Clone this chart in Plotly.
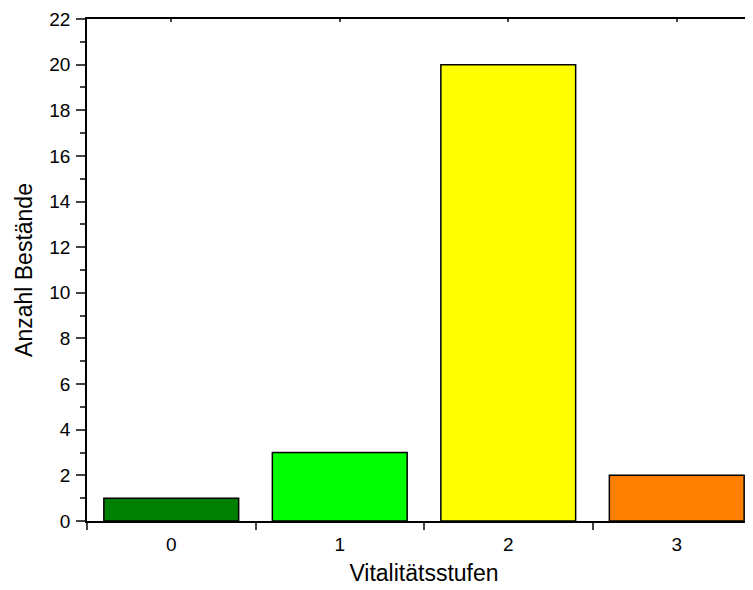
import plotly.graph_objects as go

categories = ["0", "1", "2", "3"]
counts = [1, 3, 20, 2]
colors = ["#007F00", "#00FF00", "#FFFF00", "#FF8000"]
y_ticks = [0, 2, 4, 6, 8, 10, 12, 14, 16, 18, 20, 22]

fig = go.Figure()
fig.add_trace(go.Bar(
    x=categories, y=counts, width=0.8,
    marker=dict(color=colors, line=dict(color="black", width=1.5)),
    showlegend=False,
))
fig.add_trace(go.Scatter(x=categories, y=[None]*4, xaxis="x2", showlegend=False, hoverinfo="skip"))

font = "Liberation Sans, Arial, sans-serif"
fig.update_layout(
    width=753, height=590,
    margin=dict(l=79, r=0, t=11, b=77),
    plot_bgcolor="white", paper_bgcolor="white",
    font=dict(family=font, size=18, color="black"),
    bargap=0.2,
    xaxis=dict(
        type="category", range=[-0.5, 3.5],
        tickson="boundaries", ticks="outside", ticklen=7, tickwidth=1.5,
        ticklabelstandoff=5,
        showline=True, linecolor="black", linewidth=1.5,
        showgrid=False, zeroline=False,
        title=dict(text="Vitalitätsstufen", font=dict(size=23), standoff=11),
        tickfont=dict(size=19),
    ),
    xaxis2=dict(
        type="category", overlaying="x", side="top", range=[-0.5, 3.5],
        ticks="inside", ticklen=3, tickwidth=1.5, showticklabels=False,
        showline=True, linecolor="black", linewidth=1.5, showgrid=False, zeroline=False,
    ),
    yaxis=dict(
        range=[0, 22], tickvals=y_ticks,
        ticks="outside", ticklen=9, tickwidth=1.5,
        ticklabelstandoff=2,
        minor=dict(dtick=1, ticks="outside", ticklen=5, tickwidth=1.5, showgrid=False),
        showline=True, linecolor="black", linewidth=1.5,
        showgrid=False, zeroline=False,
        title=dict(text="Anzahl Bestände", font=dict(size=23), standoff=10),
        tickfont=dict(size=19),
    ),
)

fig.write_html("out.html")
